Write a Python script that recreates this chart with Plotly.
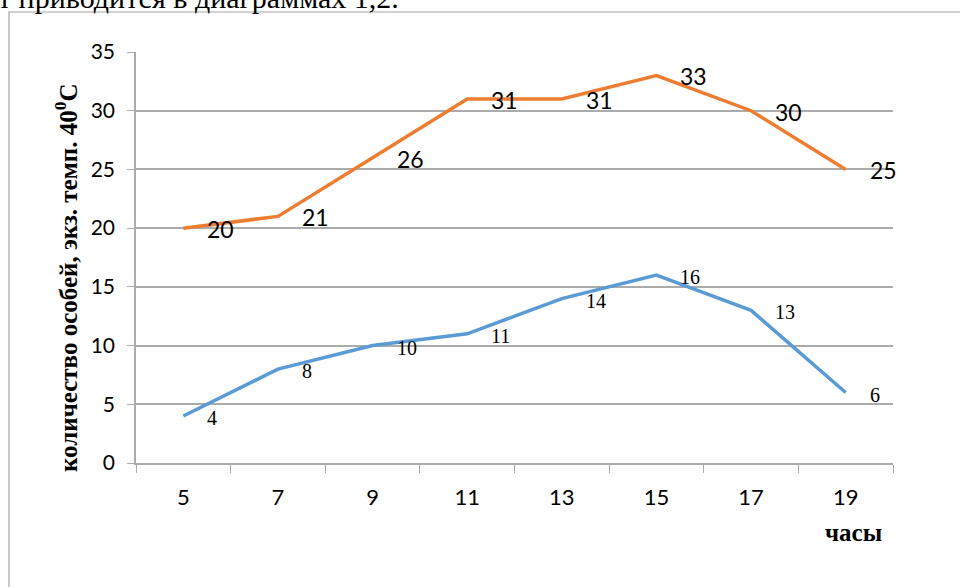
import plotly.graph_objects as go

hours = ["5", "7", "9", "11", "13", "15", "17", "19"]
series_orange = [20, 21, 26, 31, 31, 33, 30, 25]
series_blue = [4, 8, 10, 11, 14, 16, 13, 6]
y_title = "количество особей, экз. темп. 40<sup>0</sup>С"
x_title = "часы"
top_text = "т приводится в диаграммах 1,2."

W, H = 960, 587
L, R, T, B = 136, 893, 52, 463

def px(x):
    return (x - L) / (R - L)

def py(y):
    return (B - y) / (B - T)

ORANGE = "#ED7D31"
BLUE = "#5B9BD5"
GRID = "#ABABAB"

fig = go.Figure()
fig.add_trace(go.Scatter(x=hours, y=series_orange, mode="lines",
                         line=dict(color=ORANGE, width=3.5), hoverinfo="skip"))
fig.add_trace(go.Scatter(x=hours, y=series_blue, mode="lines",
                         line=dict(color=BLUE, width=3.5), hoverinfo="skip"))

ann = []
for i, v in enumerate(series_orange):
    ann.append(dict(x=i, y=v, xref="x", yref="y", text=str(v), showarrow=False,
                    xanchor="left", yanchor="middle", xshift=22, yshift=-1,
                    font=dict(family="Lato", size=23, color="#000000")))
for i, v in enumerate(series_blue):
    ann.append(dict(x=i, y=v, xref="x", yref="y", text=str(v), showarrow=False,
                    xanchor="left", yanchor="middle", xshift=22, yshift=-2,
                    font=dict(family="Liberation Serif", size=20, color="#000000")))

ann.append(dict(x=px(66), y=py(278), xref="paper", yref="paper", text=y_title,
                textangle=-90, showarrow=False, xanchor="center", yanchor="middle",
                font=dict(family="Liberation Serif", size=25, color="#000000", weight="bold")))
ann.append(dict(x=px(853), y=py(532), xref="paper", yref="paper", text=x_title,
                showarrow=False, xanchor="center", yanchor="middle",
                font=dict(family="Liberation Serif", size=25, color="#000000", weight="bold")))
ann.append(dict(x=px(-4), y=py(-3), xref="paper", yref="paper", text=top_text,
                showarrow=False, xanchor="left", yanchor="middle",
                font=dict(family="Liberation Serif", size=30, color="#000000")))

fig.update_layout(
    width=W, height=H,
    margin=dict(l=L, r=W - R, t=T, b=H - B),
    paper_bgcolor="white", plot_bgcolor="white",
    showlegend=False,
    annotations=ann,
    shapes=[dict(type="rect", xref="paper", yref="paper",
                 x0=px(9), y0=py(700), x1=px(1100), y1=py(12),
                 line=dict(color="#A6A6A6", width=1.2), fillcolor="rgba(0,0,0,0)",
                 layer="below")],
    xaxis=dict(type="category", range=[-0.5, 7.5], showgrid=False,
               showline=True, linecolor=GRID, linewidth=1.5,
               ticks="outside", tickson="boundaries", ticklen=8, tickcolor=GRID,
               tickwidth=1.2, ticklabelstandoff=14,
               tickfont=dict(family="Lato", size=22, color="#000000"),
               fixedrange=True),
    yaxis=dict(range=[0, 35], dtick=5, showgrid=True, gridcolor=GRID, gridwidth=1.5,
               showline=True, linecolor=GRID, linewidth=1.5,
               ticks="outside", ticklen=7, tickcolor=GRID, tickwidth=1.2,
               ticklabelstandoff=8,
               tickfont=dict(family="Lato", size=21, color="#000000"),
               zeroline=False, fixedrange=True),
)

fig.write_html("out.html")
